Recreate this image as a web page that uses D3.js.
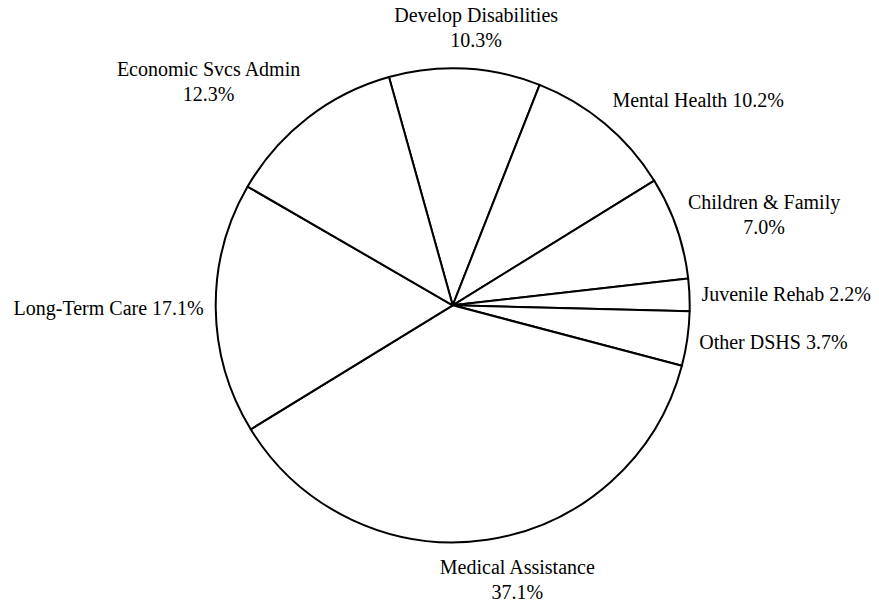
<!DOCTYPE html>
<html>
<head>
<meta charset="utf-8">
<script src="https://cdn.jsdelivr.net/npm/d3@7"></script>
<style>
  html, body { margin: 0; padding: 0; background: #fff; }
  svg { display: block; }
  text { font-family: "Liberation Serif", "Times New Roman", serif; font-size: 20px; fill: #000; }
</style>
</head>
<body>
<svg id="chart" width="879" height="602"></svg>
<script>
// ---- Data (clockwise from top) ----
const categories = ["Develop Disabilities", "Mental Health", "Children & Family", "Juvenile Rehab",
                    "Other DSHS", "Medical Assistance", "Long-Term Care", "Economic Svcs Admin"];
const percents = [10.3, 10.2, 7.0, 2.2, 3.7, 37.1, 17.1, 12.3];
const percentLabels = ["10.3%", "10.2%", "7.0%", "2.2%", "3.7%", "37.1%", "17.1%", "12.3%"];

// ---- Layout ----
const W = 879, H = 602;
const cx = 452.7, cy = 305.3, R = 237;
const labelRx = 249, labelRy = 254;
const fontSize = 20, lineH = 25, ascent = 17.8, boxH = 22.1;
const start = -15.6 * Math.PI / 180;

const svg = d3.select("#chart");
const g = svg.append("g").attr("transform", `translate(${cx},${cy})`);

const data = categories.map((c, i) => ({ name: c, value: percents[i], label: percentLabels[i] }));

const pie = d3.pie().value(d => d.value).sort(null)
  .startAngle(start).endAngle(start + 2 * Math.PI);
const arcs = pie(data);

const arc = d3.arc().innerRadius(0).outerRadius(R);

g.selectAll("path.slice").data(arcs).enter().append("path")
  .attr("class", "slice")
  .attr("d", arc)
  .attr("fill", "#fff")
  .attr("stroke", "#000")
  .attr("stroke-width", 2)
  .attr("stroke-linejoin", "round");

// ---- Labels ----
const labelArcX = d3.arc().innerRadius(labelRx).outerRadius(labelRx);
const labelArcY = d3.arc().innerRadius(labelRy).outerRadius(labelRy);
const clamp = (v, a, b) => Math.max(a, Math.min(b, v));
const spow = (v, p) => Math.sign(v) * Math.pow(Math.abs(v), p);

const labels = g.selectAll("g.lbl").data(arcs).enter().append("g").attr("class", "lbl");

labels.each(function(d) {
  const sel = d3.select(this);
  const one = `${d.data.name} ${d.data.label}`;
  const t = sel.append("text").text(one);
  let lines = [one];
  if (t.node().getComputedTextLength() > 195) {
    lines = [d.data.name, d.data.label];
  }
  t.remove();
  const texts = lines.map((l, i) => sel.append("text").attr("text-anchor", "middle").attr("y", i * lineH).text(l));
  const w = d3.max(texts, tt => tt.node().getComputedTextLength());
  const h = boxH + (lines.length - 1) * lineH;
  const a = (d.startAngle + d.endAngle) / 2;
  const s = Math.sin(a), c = Math.cos(a);
  const px = labelArcX.centroid(d)[0];
  const py = labelArcY.centroid(d)[1];
  const xc = px + (w / 2) * clamp(s / 0.4, -1, 1);
  const yc = py - (h / 2) * spow(clamp(c / 0.8, -1, 1), 1.35);
  d.lw = w; d.lh = h; d.xc = xc; d.yc = yc; d.side = s >= 0 ? 1 : -1; d.cosA = c;
});

// simple collision resolution on each side (push earlier label up)
[1, -1].forEach(side => {
  const list = arcs.filter(d => d.side === side && Math.abs(d.cosA) < 0.5)
    .sort((a, b) => a.yc - b.yc);
  for (let i = list.length - 2; i >= 0; i--) {
    const cur = list[i + 1], prev = list[i];
    const minGap = (prev.lh + cur.lh) / 2 + 21.5;
    if (cur.yc - prev.yc < minGap) prev.yc = cur.yc - minGap;
  }
});

labels.attr("transform", d => `translate(${d.xc},${d.yc - d.lh / 2 + ascent})`);
</script>
</body>
</html>
